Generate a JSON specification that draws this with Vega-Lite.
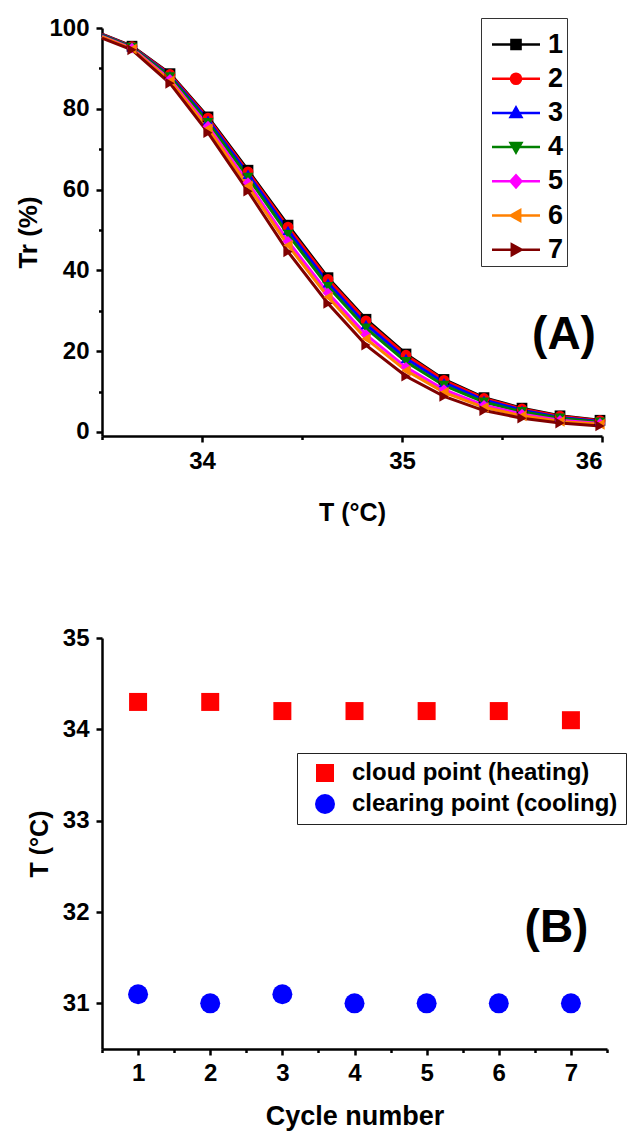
{
  "$schema": "https://vega.github.io/schema/vega-lite/v6.json",
  "background": "white",
  "padding": {"left": 15, "top": 16, "right": 0, "bottom": 4},
  "config": {
    "font": "Liberation Sans",
    "view": {"stroke": null},
    "axis": {
      "grid": false, "labelOverlap": false,
      "domainColor": "black", "domainWidth": 2.5,
      "tickColor": "black", "tickWidth": 2.5, "tickSize": 6,
      "labelFont": "Liberation Sans", "labelFontWeight": "bold", "labelFontSize": 24, "labelColor": "black",
      "titleFont": "Liberation Sans", "titleFontWeight": "bold", "titleColor": "black"
    }
  },
  "datasets": {
    "tr": [
      {"T": 33.5, "Tr": 98.5, "s": "1"}, {"T": 33.65, "Tr": 95.5, "s": "1"}, {"T": 33.84, "Tr": 88.7, "s": "1"}, {"T": 34.03, "Tr": 78.0, "s": "1"}, {"T": 34.23, "Tr": 64.8, "s": "1"}, {"T": 34.43, "Tr": 51.2, "s": "1"}, {"T": 34.63, "Tr": 38.2, "s": "1"}, {"T": 34.82, "Tr": 27.9, "s": "1"}, {"T": 35.02, "Tr": 19.3, "s": "1"}, {"T": 35.21, "Tr": 13.0, "s": "1"}, {"T": 35.41, "Tr": 8.5, "s": "1"}, {"T": 35.6, "Tr": 5.9, "s": "1"}, {"T": 35.79, "Tr": 4.0, "s": "1"}, {"T": 35.99, "Tr": 2.9, "s": "1"},
      {"T": 33.5, "Tr": 98.4, "s": "2"}, {"T": 33.65, "Tr": 95.4, "s": "2"}, {"T": 33.84, "Tr": 88.5, "s": "2"}, {"T": 34.03, "Tr": 77.7, "s": "2"}, {"T": 34.23, "Tr": 64.4, "s": "2"}, {"T": 34.43, "Tr": 50.7, "s": "2"}, {"T": 34.63, "Tr": 37.8, "s": "2"}, {"T": 34.82, "Tr": 27.5, "s": "2"}, {"T": 35.02, "Tr": 19.0, "s": "2"}, {"T": 35.21, "Tr": 12.8, "s": "2"}, {"T": 35.41, "Tr": 8.3, "s": "2"}, {"T": 35.6, "Tr": 5.7, "s": "2"}, {"T": 35.79, "Tr": 3.9, "s": "2"}, {"T": 35.99, "Tr": 2.8, "s": "2"},
      {"T": 33.5, "Tr": 98.3, "s": "3"}, {"T": 33.65, "Tr": 95.3, "s": "3"}, {"T": 33.84, "Tr": 88.2, "s": "3"}, {"T": 34.03, "Tr": 77.2, "s": "3"}, {"T": 34.23, "Tr": 63.8, "s": "3"}, {"T": 34.43, "Tr": 49.9, "s": "3"}, {"T": 34.63, "Tr": 36.9, "s": "3"}, {"T": 34.82, "Tr": 26.6, "s": "3"}, {"T": 35.02, "Tr": 18.2, "s": "3"}, {"T": 35.21, "Tr": 12.2, "s": "3"}, {"T": 35.41, "Tr": 7.9, "s": "3"}, {"T": 35.6, "Tr": 5.4, "s": "3"}, {"T": 35.79, "Tr": 3.6, "s": "3"}, {"T": 35.99, "Tr": 2.6, "s": "3"},
      {"T": 33.5, "Tr": 98.2, "s": "4"}, {"T": 33.65, "Tr": 95.2, "s": "4"}, {"T": 33.84, "Tr": 87.9, "s": "4"}, {"T": 34.03, "Tr": 76.6, "s": "4"}, {"T": 34.23, "Tr": 63.0, "s": "4"}, {"T": 34.43, "Tr": 48.9, "s": "4"}, {"T": 34.63, "Tr": 36.0, "s": "4"}, {"T": 34.82, "Tr": 25.7, "s": "4"}, {"T": 35.02, "Tr": 17.4, "s": "4"}, {"T": 35.21, "Tr": 11.5, "s": "4"}, {"T": 35.41, "Tr": 7.4, "s": "4"}, {"T": 35.6, "Tr": 5.0, "s": "4"}, {"T": 35.79, "Tr": 3.4, "s": "4"}, {"T": 35.99, "Tr": 2.4, "s": "4"},
      {"T": 33.5, "Tr": 97.9, "s": "5"}, {"T": 33.65, "Tr": 95.0, "s": "5"}, {"T": 33.84, "Tr": 87.3, "s": "5"}, {"T": 34.03, "Tr": 75.7, "s": "5"}, {"T": 34.23, "Tr": 61.7, "s": "5"}, {"T": 34.43, "Tr": 47.2, "s": "5"}, {"T": 34.63, "Tr": 34.4, "s": "5"}, {"T": 34.82, "Tr": 24.1, "s": "5"}, {"T": 35.02, "Tr": 16.0, "s": "5"}, {"T": 35.21, "Tr": 10.5, "s": "5"}, {"T": 35.41, "Tr": 6.6, "s": "5"}, {"T": 35.6, "Tr": 4.4, "s": "5"}, {"T": 35.79, "Tr": 2.9, "s": "5"}, {"T": 35.99, "Tr": 2.1, "s": "5"},
      {"T": 33.5, "Tr": 97.8, "s": "6"}, {"T": 33.65, "Tr": 94.8, "s": "6"}, {"T": 33.84, "Tr": 86.9, "s": "6"}, {"T": 34.03, "Tr": 75.1, "s": "6"}, {"T": 34.23, "Tr": 60.9, "s": "6"}, {"T": 34.43, "Tr": 46.2, "s": "6"}, {"T": 34.63, "Tr": 33.4, "s": "6"}, {"T": 34.82, "Tr": 23.1, "s": "6"}, {"T": 35.02, "Tr": 15.2, "s": "6"}, {"T": 35.21, "Tr": 9.8, "s": "6"}, {"T": 35.41, "Tr": 6.1, "s": "6"}, {"T": 35.6, "Tr": 4.0, "s": "6"}, {"T": 35.79, "Tr": 2.6, "s": "6"}, {"T": 35.99, "Tr": 1.9, "s": "6"},
      {"T": 33.5, "Tr": 97.5, "s": "7"}, {"T": 33.65, "Tr": 94.6, "s": "7"}, {"T": 33.84, "Tr": 86.3, "s": "7"}, {"T": 34.03, "Tr": 74.1, "s": "7"}, {"T": 34.23, "Tr": 59.6, "s": "7"}, {"T": 34.43, "Tr": 44.6, "s": "7"}, {"T": 34.63, "Tr": 31.8, "s": "7"}, {"T": 34.82, "Tr": 21.5, "s": "7"}, {"T": 35.02, "Tr": 13.8, "s": "7"}, {"T": 35.21, "Tr": 8.8, "s": "7"}, {"T": 35.41, "Tr": 5.3, "s": "7"}, {"T": 35.6, "Tr": 3.4, "s": "7"}, {"T": 35.79, "Tr": 2.2, "s": "7"}, {"T": 35.99, "Tr": 1.5, "s": "7"}
    ],
    "cp": [
      {"cycle": 1, "T": 34.3, "type": "cloud point (heating)"}, {"cycle": 2, "T": 34.3, "type": "cloud point (heating)"}, {"cycle": 3, "T": 34.2, "type": "cloud point (heating)"}, {"cycle": 4, "T": 34.2, "type": "cloud point (heating)"}, {"cycle": 5, "T": 34.2, "type": "cloud point (heating)"}, {"cycle": 6, "T": 34.2, "type": "cloud point (heating)"}, {"cycle": 7, "T": 34.1, "type": "cloud point (heating)"},
      {"cycle": 1, "T": 31.1, "type": "clearing point (cooling)"}, {"cycle": 2, "T": 31.0, "type": "clearing point (cooling)"}, {"cycle": 3, "T": 31.1, "type": "clearing point (cooling)"}, {"cycle": 4, "T": 31.0, "type": "clearing point (cooling)"}, {"cycle": 5, "T": 31.0, "type": "clearing point (cooling)"}, {"cycle": 6, "T": 31.0, "type": "clearing point (cooling)"}, {"cycle": 7, "T": 31.0, "type": "clearing point (cooling)"}
    ]
  },
  "bounds": "flush",
  "spacing": 202,
  "resolve": {"scale": {"color": "independent", "shape": "independent", "size": "independent", "fill": "independent", "stroke": "independent"}},
  "vconcat": [
    {
      "width": 500,
      "height": 408,
      "layer": [
        {
          "data": {"name": "tr"},
          "mark": {"type": "line", "strokeWidth": 3},
          "encoding": {
            "x": {"field": "T", "type": "quantitative", "scale": {"domain": [33.5, 36], "nice": false, "zero": false},
              "axis": {"orient": "bottom", "values": [34, 35, 36], "format": "d", "labelOverlap": false, "labelPadding": 7, "title": "T (°C)", "titleFontSize": 25, "titlePadding": 27}},
            "y": {"field": "Tr", "type": "quantitative", "scale": {"domain": [-1, 100], "nice": false, "zero": false},
              "axis": {"values": [0, 10, 20, 30, 40, 50, 60, 70, 80, 90, 100], "format": "d", "labelExpr": "datum.value % 20 === 0 ? datum.label : ''", "tickSize": {"condition": {"test": "datum.value % 20 !== 0", "value": 3.5}, "value": 6}, "labelPadding": 7, "title": "Tr (%)", "titleFontSize": 26, "titlePadding": 7}},
            "color": {"field": "s", "type": "nominal", "scale": {"domain": ["1", "2", "3", "4", "5", "6", "7"], "range": ["#000000", "#ff0000", "#0000ff", "#008000", "#ff00ff", "#ff8000", "#800000"]}, "legend": null}
          }
        },
        {
          "data": {"name": "tr"},
          "transform": [{"filter": "datum.T > 100"}],
          "mark": {"type": "point", "opacity": 0},
          "encoding": {
            "x": {"field": "T", "type": "quantitative",
              "axis": {"orient": "bottom", "values": [33.5, 34.5, 35.5], "labels": false, "domain": false, "tickSize": 3.5, "title": null}}
          }
        },
        {
          "data": {"name": "tr"},
          "transform": [{"filter": "datum.T > 33.55"}],
          "mark": {"type": "point", "filled": true, "opacity": 1, "size": 115},
          "encoding": {
            "x": {"field": "T", "type": "quantitative", "axis": null},
            "y": {"field": "Tr", "type": "quantitative"},
            "color": {"field": "s", "type": "nominal", "legend": null},
            "shape": {"field": "s", "type": "nominal", "scale": {"domain": ["1", "2", "3", "4", "5", "6", "7"], "range": ["square", "circle", "triangle-up", "triangle-down", "diamond", "triangle-left", "triangle-right"]}, "legend": null}
          }
        },
        {
          "data": {"name": "tr"},
          "transform": [{"filter": "datum.T > 100"}],
          "mark": {"type": "point", "opacity": 1, "strokeWidth": 2.5, "size": 576},
          "encoding": {
            "x": {"field": "T", "type": "quantitative", "axis": null},
            "y": {"field": "Tr", "type": "quantitative"},
            "fill": {"field": "s", "type": "nominal", "scale": {"domain": ["1", "2", "3", "4", "5", "6", "7"], "range": ["#000000", "#ff0000", "#0000ff", "#008000", "#ff00ff", "#ff8000", "#800000"]},
              "legend": {"orient": "none", "legendX": 379, "legendY": -10, "title": " ", "titleFontSize": 9, "titlePadding": 1, "strokeColor": "#333333", "padding": 3, "symbolSize": 576, "symbolStrokeWidth": 2.5, "labelFontSize": 27, "labelFontWeight": "bold", "labelFont": "Liberation Sans", "labelColor": "black", "rowPadding": 6.2, "labelOffset": 18.5, "symbolOffset": 18.5}},
            "stroke": {"field": "s", "type": "nominal", "scale": {"domain": ["1", "2", "3", "4", "5", "6", "7"], "range": ["#000000", "#ff0000", "#0000ff", "#008000", "#ff00ff", "#ff8000", "#800000"]},
              "legend": {"orient": "none", "legendX": 379, "legendY": -10, "title": " ", "titleFontSize": 9, "titlePadding": 1, "strokeColor": "#333333", "padding": 3, "symbolSize": 576, "symbolStrokeWidth": 2.5, "labelFontSize": 27, "labelFontWeight": "bold", "labelFont": "Liberation Sans", "labelColor": "black", "rowPadding": 6.2, "labelOffset": 18.5, "symbolOffset": 18.5}},
            "shape": {"field": "s", "type": "nominal", "scale": {"domain": ["1", "2", "3", "4", "5", "6", "7"], "range": [
              "M-2,0H2M-0.38,-0.38H0.38V0.38H-0.38Z",
              "M-2,0H2M-0.42,0A0.42,0.42 0 1,0 0.42,0A0.42,0.42 0 1,0 -0.42,0Z",
              "M-2,0H2M0,-0.45L0.45,0.35L-0.45,0.35Z",
              "M-2,0H2M0,0.45L0.45,-0.35L-0.45,-0.35Z",
              "M-2,0H2M0,-0.5L0.45,0L0,0.5L-0.45,0Z",
              "M-2,0H2M-0.45,0L0.35,-0.45L0.35,0.45Z",
              "M-2,0H2M0.45,0L-0.35,-0.45L-0.35,0.45Z"]},
              "legend": {"orient": "none", "legendX": 379, "legendY": -10, "title": " ", "titleFontSize": 9, "titlePadding": 1, "strokeColor": "#333333", "padding": 3, "symbolSize": 576, "symbolStrokeWidth": 2.5, "labelFontSize": 27, "labelFontWeight": "bold", "labelFont": "Liberation Sans", "labelColor": "black", "rowPadding": 6.2, "labelOffset": 18.5, "symbolOffset": 18.5}}
          }
        },
        {
          "data": {"values": [{"T": 35.81, "Tr": 23.9, "label": "(A)"}]},
          "mark": {"type": "text", "font": "Liberation Sans", "fontSize": 46, "fontWeight": "bold", "color": "black", "align": "center", "baseline": "middle"},
          "encoding": {
            "x": {"field": "T", "type": "quantitative", "axis": null},
            "y": {"field": "Tr", "type": "quantitative"},
            "text": {"field": "label"}
          }
        }
      ],
      "resolve": {"scale": {"shape": "independent", "fill": "independent", "stroke": "independent"}, "axis": {"x": "independent"}}
    },
    {
      "width": 505,
      "height": 411,
      "layer": [
        {
          "data": {"name": "cp"},
          "mark": {"type": "point", "filled": true, "opacity": 1},
          "encoding": {
            "x": {"field": "cycle", "type": "quantitative", "scale": {"domain": [0.5, 7.5], "nice": false, "zero": false},
              "axis": {"orient": "bottom", "values": [1, 2, 3, 4, 5, 6, 7], "format": "d", "labelOverlap": false, "labelPadding": 6, "title": "Cycle number", "titleFontSize": 27, "titlePadding": 18}},
            "y": {"field": "T", "type": "quantitative", "scale": {"domain": [30.5, 35], "nice": false, "zero": false},
              "axis": {"values": [31, 31.5, 32, 32.5, 33, 33.5, 34, 34.5, 35], "format": "d", "labelExpr": "datum.value % 1 === 0 ? datum.label : ''", "tickSize": {"condition": {"test": "datum.value % 1 !== 0", "value": 3.5}, "value": 6}, "labelPadding": 7, "title": "T (°C)", "titleFontSize": 25, "titlePadding": 10}},
            "color": {"field": "type", "type": "nominal", "scale": {"domain": ["cloud point (heating)", "clearing point (cooling)"], "range": ["#ff0000", "#0000ff"]},
              "legend": {"orient": "none", "legendX": 195, "legendY": 115, "title": null, "strokeColor": "#222222", "padding": 8, "symbolSize": 340, "labelFontSize": 24, "labelFontWeight": "bold", "labelFont": "Liberation Sans", "labelColor": "black", "labelLimit": 500, "rowPadding": 7, "labelOffset": 15, "symbolOffset": 8}},
            "shape": {"field": "type", "type": "nominal", "scale": {"domain": ["cloud point (heating)", "clearing point (cooling)"], "range": ["square", "circle"]},
              "legend": {"orient": "none", "legendX": 195, "legendY": 115, "title": null, "strokeColor": "#222222", "padding": 8, "symbolSize": 340, "labelFontSize": 24, "labelFontWeight": "bold", "labelFont": "Liberation Sans", "labelColor": "black", "labelLimit": 500, "rowPadding": 7, "labelOffset": 15, "symbolOffset": 8}},
            "size": {"field": "type", "type": "nominal", "scale": {"domain": ["cloud point (heating)", "clearing point (cooling)"], "range": [324, 400]}, "legend": null}
          }
        },
        {
          "data": {"name": "cp"},
          "transform": [{"filter": "datum.cycle > 100"}],
          "mark": {"type": "point", "opacity": 0},
          "encoding": {
            "x": {"field": "cycle", "type": "quantitative",
              "axis": {"orient": "bottom", "values": [0.5, 1.5, 2.5, 3.5, 4.5, 5.5, 6.5, 7.5], "labels": false, "domain": false, "tickSize": 3.5, "title": null}}
          }
        },
        {
          "data": {"values": [{"cycle": 6.8, "T": 31.83, "label": "(B)"}]},
          "mark": {"type": "text", "font": "Liberation Sans", "fontSize": 46, "fontWeight": "bold", "color": "black", "align": "center", "baseline": "middle"},
          "encoding": {
            "x": {"field": "cycle", "type": "quantitative", "axis": null},
            "y": {"field": "T", "type": "quantitative"},
            "text": {"field": "label"}
          }
        }
      ],
      "resolve": {"axis": {"x": "independent"}}
    }
  ]
}
